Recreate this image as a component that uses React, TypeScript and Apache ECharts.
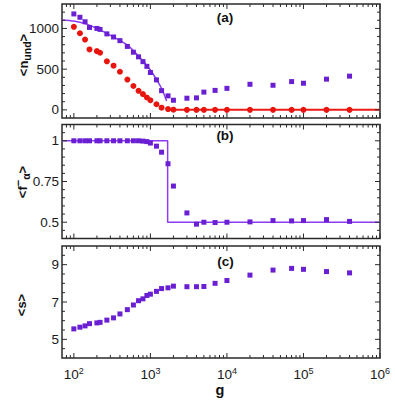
import React, { useEffect, useRef } from 'react';
import * as echarts from 'echarts';

// ---------- data ----------
const gValues = [100, 120, 140, 160, 200, 220, 270, 330, 400, 500, 600, 700, 800, 900, 1000, 1200, 1400, 1700, 2000, 3000, 4000, 5000, 7000, 10000, 20000, 40000, 70000, 100000, 200000, 400000];
const nUndSquares = [1178, 1137, 1082, 1012, 1000, 988, 933, 895, 850, 779, 708, 651, 592, 534, 459, 368, 236, 172, 118, 143, 147, 218, 239, 264, 314, 302, 347, 327, 377, 414];
const nUndCircles = [1020, 941, 863, 742, 721, 701, 596, 542, 468, 372, 293, 234, 193, 152, 118, 69, 27, 10, 2, 0, 0, 0, 0, 0, 0, 0, 0, 0, 0, 0];
const fitAg = [70, 100, 150, 200, 300, 500, 700, 1000, 1200, 1400, 1630];
const fitAn = [1105, 1090, 1050, 1000, 915, 795, 660, 490, 375, 262, 110];
const zeroLineG = [1630, 1000000];
const zeroLineN = [0, 0];

const fAlpha = [1, 1, 1, 1, 1, 1, 1, 1, 1, 1, 1, 1, 0.998, 0.995, 0.986, 0.967, 0.93, 0.859, 0.722, 0.557, 0.488, 0.5, 0.498, 0.5, 0.502, 0.51, 0.508, 0.51, 0.516, 0.505];
const stepG = [70, 1680, 1680, 1000000];
const stepF = [1, 1, 0.5, 0.5];

const sValues = [5.56, 5.65, 5.72, 5.84, 5.88, 5.91, 6.03, 6.15, 6.36, 6.59, 6.84, 7.07, 7.17, 7.35, 7.42, 7.57, 7.72, 7.76, 7.85, 7.82, 7.82, 7.83, 8.0, 8.15, 8.44, 8.71, 8.8, 8.75, 8.63, 8.56];

// ---------- axes / ticks ----------
const xMinG = 70;
const xMaxG = 1000000;
const xMajorExp = [2, 3, 4, 5, 6];
const xMinorG = [80, 90, 200, 300, 400, 500, 600, 700, 800, 900, 2000, 3000, 4000, 5000, 6000, 7000, 8000, 9000, 20000, 30000, 40000, 50000, 60000, 70000, 80000, 90000, 200000, 300000, 400000, 500000, 600000, 700000, 800000, 900000];

const yA = { min: -100, max: 1300, major: [0, 500, 1000], minorStep: 100 };
const yB = { min: 0.4, max: 1.1, major: [0.5, 0.75, 1], minorStep: 0.05 };
const yC = { min: 4, max: 10, major: [5, 7, 9], minorStep: 0.5 };

const FONT = 'Liberation Sans, Arial, Helvetica, sans-serif';
const PURPLE = '#6a1fd3';
const PURPLE_LINE = '#8b3cf2';
const RED = '#e8150f';
const RED_LINE = '#f01a14';
const AXIS = '#2a2a2a';

const lg = (v: number) => Math.log10(v);

function minorList(y: { min: number; max: number; major: number[]; minorStep: number }) {
  const out: number[] = [];
  const n = Math.round((y.max - y.min) / y.minorStep);
  for (let i = 1; i < n; i++) {
    const v = +(y.min + i * y.minorStep).toFixed(6);
    if (!y.major.some((m) => Math.abs(m - v) < 1e-9)) out.push(v);
  }
  return out;
}

function tickSeries(idx: number, y: { min: number; max: number; major: number[]; minorStep: number }) {
  const data: number[][] = [];
  xMajorExp.forEach((e) => data.push([0, e, 1]));
  xMinorG.forEach((g) => data.push([0, lg(g), 0]));
  y.major.forEach((v) => data.push([1, v, 1]));
  minorList(y).forEach((v) => data.push([1, v, 0]));
  return {
    type: 'custom',
    xAxisIndex: idx,
    yAxisIndex: idx,
    silent: true,
    clip: false,
    z: 20,
    data,
    renderItem: (params: any, api: any) => {
      const kind = api.value(0);
      const v = api.value(1);
      const major = api.value(2);
      const cs = params.coordSys;
      const len = major ? 5 : 3;
      const style = { stroke: AXIS, lineWidth: 1 };
      if (kind === 0) {
        const px = api.coord([v, y.min])[0];
        return {
          type: 'group',
          children: [
            { type: 'line', shape: { x1: px, y1: cs.y + cs.height, x2: px, y2: cs.y + cs.height - len }, style },
            { type: 'line', shape: { x1: px, y1: cs.y, x2: px, y2: cs.y + len }, style },
          ],
        };
      }
      const py = api.coord([lg(xMinG), v])[1];
      return {
        type: 'group',
        children: [
          { type: 'line', shape: { x1: cs.x, y1: py, x2: cs.x + len, y2: py }, style },
          { type: 'line', shape: { x1: cs.x + cs.width, y1: py, x2: cs.x + cs.width - len, y2: py }, style },
        ],
      };
    },
  };
}

export default function App() {
  const ref = useRef<HTMLDivElement>(null);
  useEffect(() => {
    if (!ref.current) return;
    const chart = echarts.init(ref.current, undefined, { renderer: 'svg' });
    const gridBase = { left: 62, width: 318, show: true, borderColor: AXIS, borderWidth: 1.5, backgroundColor: 'transparent' };
    const xAxisBase = (i: number) => ({
      type: 'value',
      gridIndex: i,
      min: lg(xMinG),
      max: lg(xMaxG),
      axisLine: { show: false },
      axisTick: { show: false },
      splitLine: { show: false },
      axisLabel:
        i === 2
          ? {
              customValues: xMajorExp,
              formatter: (v: number) => '10{sup|' + Math.round(v) + '}',
              margin: 8,
              fontSize: 13.5,
              fontFamily: FONT,
              color: '#1a1a1a',
              rich: { sup: { fontSize: 9, fontFamily: FONT, color: '#1a1a1a', padding: [0, 0, 8, 0] } },
            }
          : { show: false },
    });
    const yAxisBase = (i: number, y: any, fmt: (v: number) => string) => ({
      type: 'value',
      gridIndex: i,
      min: y.min,
      max: y.max,
      axisLine: { show: false },
      axisTick: { show: false },
      splitLine: { show: false },
      axisLabel: { customValues: y.major, formatter: fmt, margin: 3, fontSize: 13.5, fontFamily: FONT, color: '#1a1a1a' },
    });
    const titleStyle = (text: string, rich: any) => ({
      text,
      rich,
      fill: '#111',
      fontFamily: FONT,
      fontWeight: 'bold',
      fontSize: 13,
      align: 'center',
      verticalAlign: 'middle',
    });
    const richTitle = {
      m: { fontSize: 13, fontWeight: 'bold', fontFamily: FONT, fill: '#111' },
      sub: { fontSize: 10.5, fontWeight: 'bold', fontFamily: FONT, fill: '#111', padding: [7, 0, 0, 0] },
      sup: { fontSize: 11, fontWeight: 'bold', fontFamily: FONT, fill: '#111', padding: [0, 0, 8, 0] },
    };
    chart.setOption({
      animation: false,
      grid: [
        { ...gridBase, top: 4, height: 114 },
        { ...gridBase, top: 124.5, height: 114 },
        { ...gridBase, top: 246, height: 112 },
      ],
      xAxis: [xAxisBase(0), xAxisBase(1), xAxisBase(2)],
      yAxis: [
        yAxisBase(0, yA, (v) => String(v)),
        yAxisBase(1, yB, (v) => String(v)),
        yAxisBase(2, yC, (v) => String(v)),
      ],
      series: [
        {
          type: 'line',
          xAxisIndex: 0,
          yAxisIndex: 0,
          data: fitAg.map((g, i) => [lg(g), fitAn[i]]),
          smooth: 0.3,
          showSymbol: false,
          lineStyle: { color: PURPLE_LINE, width: 1.5 },
          z: 2,
        },
        {
          type: 'line',
          xAxisIndex: 0,
          yAxisIndex: 0,
          data: zeroLineG.map((g, i) => [lg(g), zeroLineN[i]]),
          showSymbol: false,
          lineStyle: { color: RED_LINE, width: 2 },
          z: 2,
        },
        {
          type: 'scatter',
          xAxisIndex: 0,
          yAxisIndex: 0,
          symbol: 'rect',
          symbolSize: 5,
          itemStyle: { color: PURPLE, opacity: 1 },
          data: gValues.map((g, i) => [lg(g), nUndSquares[i]]),
          z: 3,
        },
        {
          type: 'scatter',
          xAxisIndex: 0,
          yAxisIndex: 0,
          symbol: 'circle',
          symbolSize: 6,
          itemStyle: { color: RED, opacity: 1 },
          data: gValues.map((g, i) => [lg(g), nUndCircles[i]]),
          z: 4,
        },
        {
          type: 'line',
          xAxisIndex: 1,
          yAxisIndex: 1,
          data: stepG.map((g, i) => [lg(g), stepF[i]]),
          showSymbol: false,
          lineStyle: { color: PURPLE_LINE, width: 1.5 },
          z: 2,
        },
        {
          type: 'scatter',
          xAxisIndex: 1,
          yAxisIndex: 1,
          symbol: 'rect',
          symbolSize: 5,
          itemStyle: { color: PURPLE, opacity: 1 },
          data: gValues.map((g, i) => [lg(g), fAlpha[i]]),
          z: 3,
        },
        {
          type: 'scatter',
          xAxisIndex: 2,
          yAxisIndex: 2,
          symbol: 'rect',
          symbolSize: 5,
          itemStyle: { color: PURPLE, opacity: 1 },
          data: gValues.map((g, i) => [lg(g), sValues[i]]),
          z: 3,
        },
        tickSeries(0, yA),
        tickSeries(1, yB),
        tickSeries(2, yC),
      ],
      graphic: [
        { type: 'text', x: 225, y: 17, style: { text: '(a)', fill: '#111', fontFamily: FONT, fontWeight: 'bold', fontSize: 13.5, align: 'center', verticalAlign: 'middle' } },
        { type: 'text', x: 225, y: 135, style: { text: '(b)', fill: '#111', fontFamily: FONT, fontWeight: 'bold', fontSize: 13.5, align: 'center', verticalAlign: 'middle' } },
        { type: 'text', x: 225.5, y: 261, style: { text: '(c)', fill: '#111', fontFamily: FONT, fontWeight: 'bold', fontSize: 13.5, align: 'center', verticalAlign: 'middle' } },
        { type: 'text', x: 220, y: 397, style: { text: 'g', fill: '#111', fontFamily: FONT, fontWeight: 'bold', fontSize: 14.5, align: 'center', verticalAlign: 'bottom' } },
        { type: 'text', x: 23, y: 55, rotation: Math.PI / 2, style: titleStyle('{m|<n}{sub|und}{m|>}', richTitle) },
        { type: 'text', x: 22, y: 182, rotation: Math.PI / 2, style: titleStyle('{m|<f}{sup|−}{sub|α}{m|>}', richTitle) },
        { type: 'text', x: 21.5, y: 305, rotation: Math.PI / 2, style: titleStyle('{m|<s>}', richTitle) },
      ],
    });
    return () => chart.dispose();
  }, []);
  return <div ref={ref} style={{ position: 'fixed', left: 0, top: 0, width: 395, height: 401, background: '#fff' }} />;
}
